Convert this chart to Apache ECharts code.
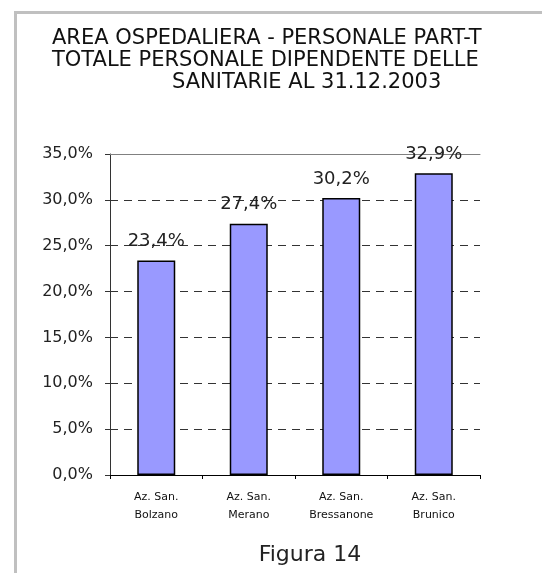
<!DOCTYPE html>
<html><head><meta charset="utf-8">
<script src="https://cdn.jsdelivr.net/npm/echarts@6/dist/echarts.min.js"></script>
<style>html,body{margin:0;padding:0;background:#fff}#c{width:542px;height:573px}</style>
</head><body><div id="c"></div>
<script>
var titleLines = ["AREA OSPEDALIERA - PERSONALE PART-TIME SUL", "TOTALE PERSONALE DIPENDENTE DELLE AZIENDE", "SANITARIE AL 31.12.2003"];
var categories = ["Az. San.\nBolzano", "Az. San.\nMerano", "Az. San.\nBressanone", "Az. San.\nBrunico"];
var values = [23.4, 27.4, 30.2, 32.9];
var yTicks = [0, 5, 10, 15, 20, 25, 30, 35];
var caption = "Figura 14";

function pct(v){ return v.toFixed(1).replace('.', ',') + '%'; }

var ff = '"DejaVu Sans", Verdana, sans-serif';
// fit title size so that the visible part of line 1 spans the same width as the reference
var ctx = document.createElement('canvas').getContext('2d');
ctx.font = '20px ' + ff;
var visW = ctx.measureText('AREA OSPEDALIERA - PERSONALE PART-T').width;
var tSize = Math.round(20 * 429 / visW * 10) / 10;

var chart = echarts.init(document.getElementById('c'));
chart.setOption({
  animation: false,
  grid: {left: 110, right: 62, top: 154, bottom: 98, containLabel: false},
  xAxis: [{
    type: 'category', data: categories,
    axisLine: {lineStyle: {color: '#000', width: 1}},
    axisTick: {show: true, length: 4, alignWithLabel: false, lineStyle: {color: '#000'}},
    axisLabel: {color: '#111', fontFamily: ff, fontSize: 11, lineHeight: 18, margin: 13}
  }, {
    type: 'category', data: categories, position: 'top',
    axisLine: {lineStyle: {color: '#808080', width: 1}},
    axisTick: {show: false}, axisLabel: {show: false}
  }],
  yAxis: {
    type: 'value', min: yTicks[0], max: yTicks[yTicks.length-1], interval: 5,
    axisLine: {show: true, lineStyle: {color: '#333', width: 1}},
    axisTick: {show: true, length: 5, lineStyle: {color: '#333'}},
    axisLabel: {formatter: function(v){ return pct(v); }, color: '#222', fontFamily: ff, fontSize: 16, margin: 17},
    splitLine: {show: true, showMinLine: false, showMaxLine: false, lineStyle: {color: '#333', type: [8, 6], width: 1}}
  },
  series: [{
    type: 'bar', data: values, barWidth: 38,
    itemStyle: {color: '#9999ff', borderColor: '#000', borderWidth: 1.5},
    label: {show: true, position: 'top', distance: 10, formatter: function(p){ return pct(p.value); },
      color: '#222', fontFamily: ff, fontSize: 18}
  }],
  graphic: [
    {type: 'rect', shape: {x: 14, y: 11, width: 3, height: 562}, style: {fill: '#c0c0c0'}, z: 100},
    {type: 'rect', shape: {x: 14, y: 11, width: 528, height: 3}, style: {fill: '#c0c0c0'}, z: 100},
    {type: 'text', x: 52, y: 39, style: {text: titleLines[0], fill: '#111', font: tSize + 'px ' + ff, align: 'left', verticalAlign: 'middle'}, z: 50},
    {type: 'text', x: 52, y: 61, style: {text: titleLines[1], fill: '#111', font: tSize + 'px ' + ff, align: 'left', verticalAlign: 'middle'}, z: 50},
    {type: 'text', x: 172, y: 83, style: {text: titleLines[2], fill: '#111', font: tSize + 'px ' + ff, align: 'left', verticalAlign: 'middle'}, z: 50},
    {type: 'rect', shape: {x: 483, y: 20, width: 59, height: 30}, style: {fill: '#fff'}, z: 60},
    {type: 'rect', shape: {x: 485, y: 50, width: 57, height: 50}, style: {fill: '#fff'}, z: 60},
    {type: 'text', x: 310, y: 555, style: {text: caption, fill: '#222', font: '22px ' + ff, align: 'center', verticalAlign: 'middle'}, z: 50}
  ]
});
</script></body></html>
